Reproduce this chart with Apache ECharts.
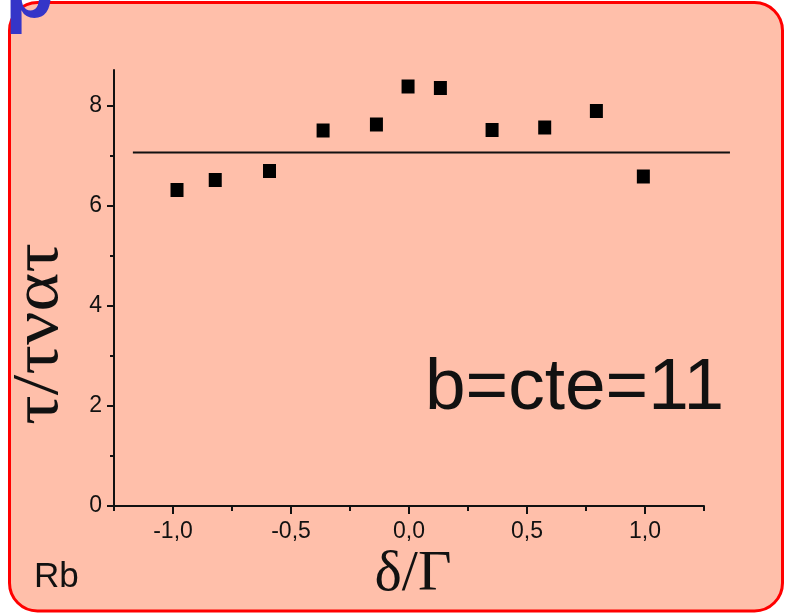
<!DOCTYPE html>
<html>
<head>
<meta charset="utf-8">
<script src="https://cdn.jsdelivr.net/npm/echarts@6/dist/echarts.min.js"></script>
<style>
  html, body { margin: 0; padding: 0; background: #ffffff; }
  #chart { width: 786px; height: 614px; }
</style>
</head>
<body>
<div id="chart"></div>
<script>
// Lifetime ratio vs. normalised detuning (Rb, b = 11)
const detuning = [-0.983, -0.821, -0.591, -0.364, -0.138, -0.004, 0.133, 0.352, 0.575, 0.794, 0.993];
const tauRatio = [6.32, 6.52, 6.70, 7.51, 7.63, 8.39, 8.36, 7.52, 7.57, 7.90, 6.59];

// Constant (mean) level drawn across the data
const meanLevel = 7.07;
const meanSpan = [-1.17, 1.36];

// Axis ticks
const xMajorTicks = [-1.0, -0.5, 0.0, 0.5, 1.0];
const xMinorTicks = [-1.25, -0.75, -0.25, 0.25, 0.75, 1.25];
const yMajorTicks = [0, 2, 4, 6, 8];
const yMinorTicks = [1, 3, 5, 7];

const chart = echarts.init(document.getElementById('chart'), null, { renderer: 'canvas' });

const ink = '#111111';
const sans = "'Liberation Sans', Arial, sans-serif";
const serif = "'Liberation Serif', 'Times New Roman', serif";
const commaFmt = v => v.toFixed(1).replace('.', ',');

const xRange = [-1.25, 1.25];
const yRange = [0, 8.72];

chart.setOption({
  animation: false,
  backgroundColor: '#ffffff',
  graphic: [
    {
      type: 'rect', z: -10,
      shape: { x: 9.5, y: 2.5, width: 773, height: 608.5, r: 28 },
      style: { fill: '#FFBFAA', stroke: '#FF0000', lineWidth: 3 }
    },
    {
      type: 'text', z: 10, x: 5, y: -5,
      style: { text: 'p', font: "bold 80px 'Liberation Sans', Arial, sans-serif", fill: '#3535C8', align: 'left', verticalAlign: 'middle' }
    },
    {
      type: 'text', z: 10, x: 40, y: 334, rotation: Math.PI / 2, scaleX: 1.12,
      style: { text: 'τ/τνατ', font: "66px " + serif, fill: ink, align: 'center', verticalAlign: 'middle' }
    },
    {
      type: 'text', z: 10, x: 413, y: 575,
      style: { text: 'δ/Γ', font: "58px " + serif, fill: ink, align: 'center', verticalAlign: 'middle' }
    },
    {
      type: 'text', z: 10, x: 425, y: 389,
      style: { text: 'b=cte=11', font: "73px " + sans, fill: ink, align: 'left', verticalAlign: 'middle' }
    },
    {
      type: 'text', z: 10, x: 34, y: 577,
      style: { text: 'Rb', font: "35px " + sans, fill: ink, align: 'left', verticalAlign: 'middle' }
    }
  ],
  grid: { left: 114, right: 82, top: 70, bottom: 108, containLabel: false },
  xAxis: [
    {
      type: 'value', position: 'bottom', min: xRange[0], max: xRange[1],
      axisLine: { onZero: false, lineStyle: { color: ink, width: 2 } },
      axisTick: { customValues: xMajorTicks, length: 8, lineStyle: { color: ink, width: 2 } },
      axisLabel: { customValues: xMajorTicks, formatter: commaFmt, color: ink, fontSize: 23, fontFamily: sans, margin: 14 },
      splitLine: { show: false }
    },
    {
      type: 'value', position: 'bottom', min: xRange[0], max: xRange[1],
      axisLine: { show: false, onZero: false },
      axisTick: { customValues: xMinorTicks, length: 5, lineStyle: { color: ink, width: 2 } },
      axisLabel: { show: false },
      splitLine: { show: false }
    }
  ],
  yAxis: [
    {
      type: 'value', position: 'left', min: yRange[0], max: yRange[1],
      axisLine: { onZero: false, lineStyle: { color: ink, width: 2 } },
      axisTick: { customValues: yMajorTicks, length: 7, lineStyle: { color: ink, width: 2 } },
      axisLabel: { customValues: yMajorTicks, color: ink, fontSize: 23, fontFamily: sans, margin: 12 },
      splitLine: { show: false }
    },
    {
      type: 'value', position: 'left', min: yRange[0], max: yRange[1],
      axisLine: { show: false, onZero: false },
      axisTick: { customValues: yMinorTicks, length: 4, lineStyle: { color: ink, width: 2 } },
      axisLabel: { show: false },
      splitLine: { show: false }
    }
  ],
  series: [
    {
      // mean level, allowed to run past the end of the x axis
      type: 'custom', xAxisIndex: 0, yAxisIndex: 0, clip: false,
      data: [[meanSpan[0], meanSpan[1], meanLevel]],
      renderItem: (params, api) => {
        const p0 = api.coord([api.value(0), api.value(2)]);
        const p1 = api.coord([api.value(1), api.value(2)]);
        return {
          type: 'line',
          shape: { x1: p0[0], y1: p0[1], x2: p1[0], y2: p1[1] },
          style: { stroke: ink, lineWidth: 2 }
        };
      }
    },
    {
      type: 'scatter', xAxisIndex: 0, yAxisIndex: 0, clip: false,
      data: detuning.map((x, i) => [x, tauRatio[i]]),
      symbol: 'rect', symbolSize: [13, 14],
      itemStyle: { color: '#000000', opacity: 1 }
    }
  ]
});
</script>
</body>
</html>
